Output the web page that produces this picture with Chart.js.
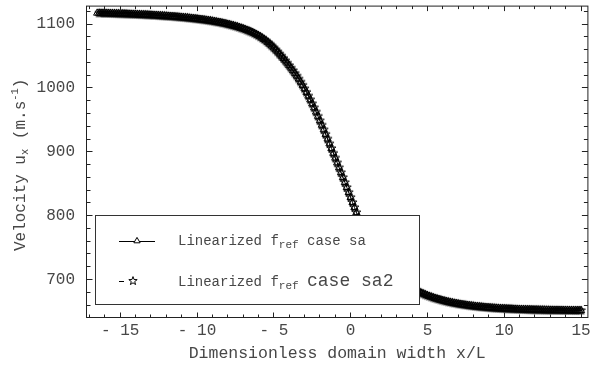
<!DOCTYPE html>
<html>
<head>
<meta charset="utf-8">
<title>Velocity profile</title>
<style>
  html, body { margin: 0; padding: 0; background: #ffffff; }
  canvas { display: block; }
</style>
<script src="https://cdn.jsdelivr.net/npm/chart.js@4/dist/chart.umd.min.js"></script>
</head>
<body>
<canvas id="chart" width="594" height="368"></canvas>
<script>
// Grid positions x/L
const xPositions = [
  -16.5, -16.375, -16.25, -16.125,
  -16, -15.875, -15.75, -15.625, -15.5, -15.375, -15.25, -15.125,
  -15, -14.875, -14.75, -14.625, -14.5, -14.375, -14.25, -14.125,
  -14, -13.875, -13.75, -13.625, -13.5, -13.375, -13.25, -13.125,
  -13, -12.875, -12.75, -12.625, -12.5, -12.375, -12.25, -12.125,
  -12, -11.875, -11.75, -11.625, -11.5, -11.375, -11.25, -11.125,
  -11, -10.875, -10.75, -10.625, -10.5, -10.375, -10.25, -10.125,
  -10, -9.875, -9.75, -9.625, -9.5, -9.375, -9.25, -9.125,
  -9, -8.875, -8.75, -8.625, -8.5, -8.375, -8.25, -8.125,
  -8, -7.875, -7.75, -7.625, -7.5, -7.375, -7.25, -7.125,
  -7, -6.875, -6.75, -6.625, -6.5, -6.375, -6.25, -6.125,
  -6, -5.875, -5.75, -5.625, -5.5, -5.375, -5.25, -5.125,
  -5, -4.875, -4.75, -4.625, -4.5, -4.375, -4.25, -4.125,
  -4, -3.875, -3.75, -3.625, -3.5, -3.375, -3.25, -3.125,
  -3, -2.875, -2.75, -2.625, -2.5, -2.375, -2.25, -2.125,
  -2, -1.875, -1.75, -1.625, -1.5, -1.375, -1.25, -1.125,
  -1, -0.875, -0.75, -0.625, -0.5, -0.375, -0.25, -0.125,
  0, 0.125, 0.25, 0.375, 0.5, 0.625, 0.75, 0.875,
  1, 1.125, 1.25, 1.375, 1.5, 1.625, 1.75, 1.875,
  2, 2.125, 2.25, 2.375, 2.5, 2.625, 2.75, 2.875,
  3, 3.125, 3.25, 3.375, 3.5, 3.625, 3.75, 3.875,
  4, 4.125, 4.25, 4.375, 4.5, 4.625, 4.75, 4.875,
  5, 5.125, 5.25, 5.375, 5.5, 5.625, 5.75, 5.875,
  6, 6.125, 6.25, 6.375, 6.5, 6.625, 6.75, 6.875,
  7, 7.125, 7.25, 7.375, 7.5, 7.625, 7.75, 7.875,
  8, 8.125, 8.25, 8.375, 8.5, 8.625, 8.75, 8.875,
  9, 9.125, 9.25, 9.375, 9.5, 9.625, 9.75, 9.875,
  10, 10.125, 10.25, 10.375, 10.5, 10.625, 10.75, 10.875,
  11, 11.125, 11.25, 11.375, 11.5, 11.625, 11.75, 11.875,
  12, 12.125, 12.25, 12.375, 12.5, 12.625, 12.75, 12.875,
  13, 13.125, 13.25, 13.375, 13.5, 13.625, 13.75, 13.875,
  14, 14.125, 14.25, 14.375, 14.5, 14.625, 14.75, 14.875,
  15
];

// Velocity u_x (m/s), linearized f_ref, case sa
const caseSa = [
  1117.2, 1117.1, 1117.0, 1117.0,
  1116.9, 1116.8, 1116.7, 1116.6, 1116.5, 1116.4, 1116.3, 1116.2,
  1116.1, 1116.0, 1115.9, 1115.8, 1115.6, 1115.5, 1115.4, 1115.3,
  1115.2, 1115.0, 1114.9, 1114.7, 1114.6, 1114.5, 1114.3, 1114.1,
  1114.0, 1113.8, 1113.6, 1113.5, 1113.3, 1113.1, 1112.9, 1112.7,
  1112.5, 1112.3, 1112.0, 1111.8, 1111.6, 1111.3, 1111.1, 1110.8,
  1110.5, 1110.2, 1110.0, 1109.7, 1109.3, 1109.0, 1108.7, 1108.3,
  1108.0, 1107.6, 1107.2, 1106.8, 1106.4, 1106.0, 1105.5, 1105.1,
  1104.6, 1104.0, 1103.5, 1102.9, 1102.4, 1101.7, 1101.1, 1100.4,
  1099.7, 1099.0, 1098.2, 1097.4, 1096.6, 1095.7, 1094.7, 1093.7,
  1092.7, 1091.6, 1090.4, 1089.2, 1087.9, 1086.6, 1085.1, 1083.5,
  1081.8, 1080.0, 1078.0, 1075.9, 1073.6, 1071.1, 1068.5, 1065.7,
  1062.8, 1059.7, 1056.6, 1053.2, 1049.8, 1046.3, 1042.6, 1038.9,
  1035.1, 1031.1, 1027.1, 1022.9, 1018.6, 1014.0, 1009.2, 1004.2,
  998.8, 993.2, 987.4, 981.5, 975.3, 969.0, 962.4, 955.7,
  948.8, 941.8, 934.6, 927.4, 920.1, 912.7, 905.2, 897.8,
  890.3, 882.8, 875.2, 867.5, 859.8, 852.0, 844.2, 836.4,
  828.6, 820.7, 812.8, 804.9, 797.2, 789.9, 782.9, 776.3,
  770.1, 764.1, 758.5, 753.1, 748.0, 743.2, 738.6, 734.2,
  730.1, 726.2, 722.5, 718.9, 715.6, 712.4, 709.4, 706.5,
  703.8, 701.2, 698.7, 696.4, 694.2, 692.1, 690.1, 688.2,
  686.4, 684.7, 683.1, 681.5, 680.1, 678.7, 677.4, 676.1,
  674.9, 673.8, 672.7, 671.6, 670.6, 669.7, 668.8, 668.0,
  667.1, 666.4, 665.6, 664.9, 664.3, 663.6, 663.0, 662.5,
  661.9, 661.4, 660.9, 660.4, 660.0, 659.5, 659.1, 658.7,
  658.4, 658.0, 657.7, 657.4, 657.1, 656.8, 656.5, 656.2,
  656.0, 655.7, 655.5, 655.3, 655.1, 654.9, 654.7, 654.5,
  654.4, 654.2, 654.0, 653.9, 653.8, 653.6, 653.5, 653.4,
  653.3, 653.2, 653.1, 653.0, 652.9, 652.8, 652.7, 652.6,
  652.5, 652.5, 652.4, 652.3, 652.3, 652.2, 652.1, 652.1,
  652.0, 652.0, 651.9, 651.9, 651.9, 651.8, 651.8, 651.7,
  651.7, 651.7, 651.6, 651.6, 651.6, 651.5, 651.5, 651.5,
  651.5
];

// Velocity u_x (m/s), linearized f_ref, case sa2 (first grid point not plotted)
const caseSa2 = [
  null, 1117.1, 1117.0, 1117.0,
  1116.9, 1116.8, 1116.7, 1116.6, 1116.5, 1116.4, 1116.3, 1116.2,
  1116.1, 1116.0, 1115.9, 1115.8, 1115.6, 1115.5, 1115.4, 1115.3,
  1115.2, 1115.0, 1114.9, 1114.7, 1114.6, 1114.5, 1114.3, 1114.1,
  1114.0, 1113.8, 1113.6, 1113.5, 1113.3, 1113.1, 1112.9, 1112.7,
  1112.5, 1112.3, 1112.0, 1111.8, 1111.6, 1111.3, 1111.1, 1110.8,
  1110.5, 1110.2, 1110.0, 1109.7, 1109.3, 1109.0, 1108.7, 1108.3,
  1108.0, 1107.6, 1107.2, 1106.8, 1106.4, 1106.0, 1105.5, 1105.1,
  1104.6, 1104.0, 1103.5, 1102.9, 1102.4, 1101.7, 1101.1, 1100.4,
  1099.7, 1099.0, 1098.2, 1097.4, 1096.6, 1095.7, 1094.7, 1093.7,
  1092.7, 1091.6, 1090.4, 1089.2, 1087.9, 1086.6, 1085.1, 1083.5,
  1081.8, 1080.0, 1078.0, 1075.9, 1073.6, 1071.1, 1068.5, 1065.7,
  1062.8, 1059.7, 1056.6, 1053.2, 1049.8, 1046.3, 1042.6, 1038.9,
  1035.1, 1031.1, 1027.1, 1022.9, 1018.6, 1014.0, 1009.2, 1004.2,
  998.8, 993.2, 987.4, 981.5, 975.3, 969.0, 962.4, 955.7,
  948.8, 941.8, 934.6, 927.4, 920.1, 912.7, 905.2, 897.8,
  890.3, 882.8, 875.2, 867.5, 859.8, 852.0, 844.2, 836.4,
  828.6, 820.7, 812.8, 804.9, 797.2, 789.9, 782.9, 776.3,
  770.1, 764.1, 758.5, 753.1, 748.0, 743.2, 738.6, 734.2,
  730.1, 726.2, 722.5, 718.9, 715.6, 712.4, 709.4, 706.5,
  703.8, 701.2, 698.7, 696.4, 694.2, 692.1, 690.1, 688.2,
  686.4, 684.7, 683.1, 681.5, 680.1, 678.7, 677.4, 676.1,
  674.9, 673.8, 672.7, 671.6, 670.6, 669.7, 668.8, 668.0,
  667.1, 666.4, 665.6, 664.9, 664.3, 663.6, 663.0, 662.5,
  661.9, 661.4, 660.9, 660.4, 660.0, 659.5, 659.1, 658.7,
  658.4, 658.0, 657.7, 657.4, 657.1, 656.8, 656.5, 656.2,
  656.0, 655.7, 655.5, 655.3, 655.1, 654.9, 654.7, 654.5,
  654.4, 654.2, 654.0, 653.9, 653.8, 653.6, 653.5, 653.4,
  653.3, 653.2, 653.1, 653.0, 652.9, 652.8, 652.7, 652.6,
  652.5, 652.5, 652.4, 652.3, 652.3, 652.2, 652.1, 652.1,
  652.0, 652.0, 651.9, 651.9, 651.9, 651.8, 651.8, 651.7,
  651.7, 651.7, 651.6, 651.6, 651.6, 651.5, 651.5, 651.5,
  651.5
];

// Axis ticks
const xTickValues = [-15, -10, -5, 0, 5, 10, 15];
const xTickLabels = ['- 15', '- 10', '- 5', '0', '5', '10', '15'];
const yTickValues = [700, 800, 900, 1000, 1100];
const yTickLabels = ['700', '800', '900', '1000', '1100'];
const xMinorStep = 1;
const yMinorStep = 20;

const MONO = "'Liberation Mono', 'DejaVu Sans Mono', monospace";
const TEXT = '#474747';
const INK = '#000000';

// Five-pointed hollow star used as the marker of the sa2 series
function drawStarPath(g, cx, cy, r, inner) {
  g.beginPath();
  for (let k = 0; k < 10; k++) {
    const rr = k % 2 ? inner : r;
    const a = -Math.PI / 2 + k * Math.PI / 5;
    const px = cx + rr * Math.cos(a);
    const py = cy + rr * Math.sin(a);
    if (k === 0) g.moveTo(px, py); else g.lineTo(px, py);
  }
  g.closePath();
}
function makeStar(r, inner) {
  const size = Math.ceil(r * 2) + 3;
  const cv = document.createElement('canvas');
  cv.width = size; cv.height = size;
  const g = cv.getContext('2d');
  drawStarPath(g, size / 2, size / 2, r, inner);
  g.strokeStyle = INK;
  g.lineWidth = 1;
  g.stroke();
  return cv;
}
const starMarker = makeStar(4.6, 1.9);

// Draws a run of text pieces (normal / subscript / superscript) left to right
function drawRuns(ctx, runs, x, y) {
  let cx = x;
  for (const r of runs) {
    ctx.font = r.size + 'px ' + MONO;
    ctx.fillText(r.t, cx, y + (r.dy || 0));
    cx += ctx.measureText(r.t).width;
  }
  return cx;
}
function runsWidth(ctx, runs) {
  let w = 0;
  for (const r of runs) {
    ctx.font = r.size + 'px ' + MONO;
    w += ctx.measureText(r.t).width;
  }
  return w;
}

// Plot frame with inward ticks on all four sides
const framePlugin = {
  id: 'frameTicks',
  afterDatasetsDraw(chart) {
    const { ctx, chartArea: a, scales: { x, y } } = chart;
    const L = a.left + 0.5, R = a.right - 0.5, T = a.top + 0.5, B = a.bottom - 0.5;
    ctx.save();
    ctx.strokeStyle = '#222';
    ctx.lineWidth = 1;
    ctx.strokeRect(L, T, R - L, B - T);
    ctx.beginPath();
    for (let v = Math.ceil(x.min); v <= x.max; v += xMinorStep) {
      const px = Math.floor(x.getPixelForValue(v)) + 0.5;
      const major = xTickValues.includes(v);
      ctx.moveTo(px, B); ctx.lineTo(px, B - (major ? 5 : 3));
      ctx.moveTo(px, T); ctx.lineTo(px, T + (major ? 5 : 3));
    }
    for (let v = Math.ceil(y.min / yMinorStep) * yMinorStep; v <= y.max; v += yMinorStep) {
      const py = Math.floor(y.getPixelForValue(v)) + 0.5;
      const major = yTickValues.includes(v);
      ctx.moveTo(L, py); ctx.lineTo(L + (major ? 6 : 4), py);
      ctx.moveTo(R, py); ctx.lineTo(R - (major ? 6 : 4), py);
    }
    ctx.stroke();
    ctx.restore();
  }
};

// Rotated y-axis title with subscript and superscript
const yTitlePlugin = {
  id: 'yTitle',
  afterDraw(chart) {
    const ctx = chart.ctx;
    const runs = [
      { t: 'Velocity u', size: 16 },
      { t: 'x', size: 10.5, dy: 3 },
      { t: ' (m.s', size: 16 },
      { t: '-1', size: 10.5, dy: -7 },
      { t: ')', size: 16 }
    ];
    const mid = (chart.chartArea.top + chart.chartArea.bottom) / 2 + 3;
    ctx.save();
    ctx.fillStyle = TEXT;
    ctx.textBaseline = 'alphabetic';
    ctx.textAlign = 'left';
    ctx.translate(25, mid);
    ctx.rotate(-Math.PI / 2);
    drawRuns(ctx, runs, -runsWidth(ctx, runs) / 2, 0);
    ctx.restore();
  }
};

// Boxed legend inside the plot
const legendPlugin = {
  id: 'boxLegend',
  afterDraw(chart) {
    const ctx = chart.ctx;
    ctx.save();
    ctx.fillStyle = '#ffffff';
    ctx.fillRect(96, 216, 323, 88);
    ctx.strokeStyle = '#333';
    ctx.lineWidth = 1;
    ctx.strokeRect(95.5, 215.5, 324, 89);

    // row 1: solid line with triangle
    ctx.strokeStyle = INK;
    ctx.beginPath();
    ctx.moveTo(119, 241.5); ctx.lineTo(155, 241.5);
    ctx.stroke();
    ctx.fillStyle = '#ffffff';
    Chart.helpers.drawPoint(ctx, { pointStyle: 'triangle', radius: 3.6, borderWidth: 1, rotation: 0 }, 137, 241);

    // row 2: dash with star
    ctx.beginPath();
    ctx.moveTo(119, 281.5); ctx.lineTo(124, 281.5);
    ctx.stroke();
    drawStarPath(ctx, 133, 281, 4.4, 1.8);
    ctx.stroke();

    ctx.fillStyle = TEXT;
    ctx.textBaseline = 'alphabetic';
    ctx.textAlign = 'left';
    drawRuns(ctx, [
      { t: 'Linearized f', size: 14 },
      { t: 'ref', size: 11, dy: 3 },
      { t: ' case sa', size: 14 }
    ], 178, 245);
    drawRuns(ctx, [
      { t: 'Linearized f', size: 14 },
      { t: 'ref', size: 11, dy: 3 },
      { t: ' ', size: 14 },
      { t: 'case sa2', size: 18 }
    ], 178, 286);
    ctx.restore();
  }
};

// Scales keep no extra edge padding so the plot frame sits where the layout puts it
const noEdgePadding = (s) => {
  s.paddingTop = 0; s.paddingBottom = 0; s.paddingLeft = 0; s.paddingRight = 0;
};

const toPoints = (vals) => xPositions.map((x, i) => ({ x: x, y: vals[i] }));

new Chart(document.getElementById('chart'), {
  type: 'line',
  data: {
    datasets: [
      {
        label: 'Linearized f_ref case sa',
        data: toPoints(caseSa),
        borderColor: INK,
        borderWidth: 1,
        pointStyle: 'triangle',
        pointRadius: 4.2,
        pointBorderWidth: 1,
        pointBorderColor: INK,
        pointBackgroundColor: 'rgba(0,0,0,0)',
        order: 2
      },
      {
        label: 'Linearized f_ref case sa2',
        data: toPoints(caseSa2),
        borderColor: INK,
        borderWidth: 1,
        borderDash: [4, 3],
        pointStyle: starMarker,
        pointRadius: 4.6,
        order: 1
      }
    ]
  },
  options: {
    responsive: false,
    animation: false,
    devicePixelRatio: 1,
    layout: { padding: { left: 0, right: 2, top: 5, bottom: 0 } },
    plugins: { legend: { display: false }, tooltip: { enabled: false } },
    elements: { line: { tension: 0 } },
    scales: {
      x: {
        type: 'linear',
        min: -17.23,
        max: 15.48,
        afterBuildTicks: (s) => { s.ticks = xTickValues.map(v => ({ value: v })); },
        afterFit: (s) => { s.height = 50; noEdgePadding(s); },
        ticks: {
          callback: (v) => xTickLabels[xTickValues.indexOf(v)],
          font: { family: MONO, size: 16 },
          color: TEXT,
          padding: 3,
          maxRotation: 0,
          autoSkip: false
        },
        grid: { display: false, drawTicks: false },
        border: { display: false },
        title: {
          display: true,
          text: 'Dimensionless domain width x/L',
          font: { family: MONO, size: 16.5 },
          color: TEXT,
          padding: { top: 0, bottom: 4 }
        }
      },
      y: {
        type: 'linear',
        min: 639.8,
        max: 1128.9,
        afterBuildTicks: (s) => { s.ticks = yTickValues.map(v => ({ value: v })); },
        afterFit: (s) => { s.width = 86; noEdgePadding(s); },
        ticks: {
          callback: (v) => yTickLabels[yTickValues.indexOf(v)],
          font: { family: MONO, size: 16 },
          color: TEXT,
          padding: 11,
          autoSkip: false
        },
        grid: { display: false, drawTicks: false },
        border: { display: false }
      }
    }
  },
  plugins: [framePlugin, yTitlePlugin, legendPlugin]
});
</script>
</body>
</html>
